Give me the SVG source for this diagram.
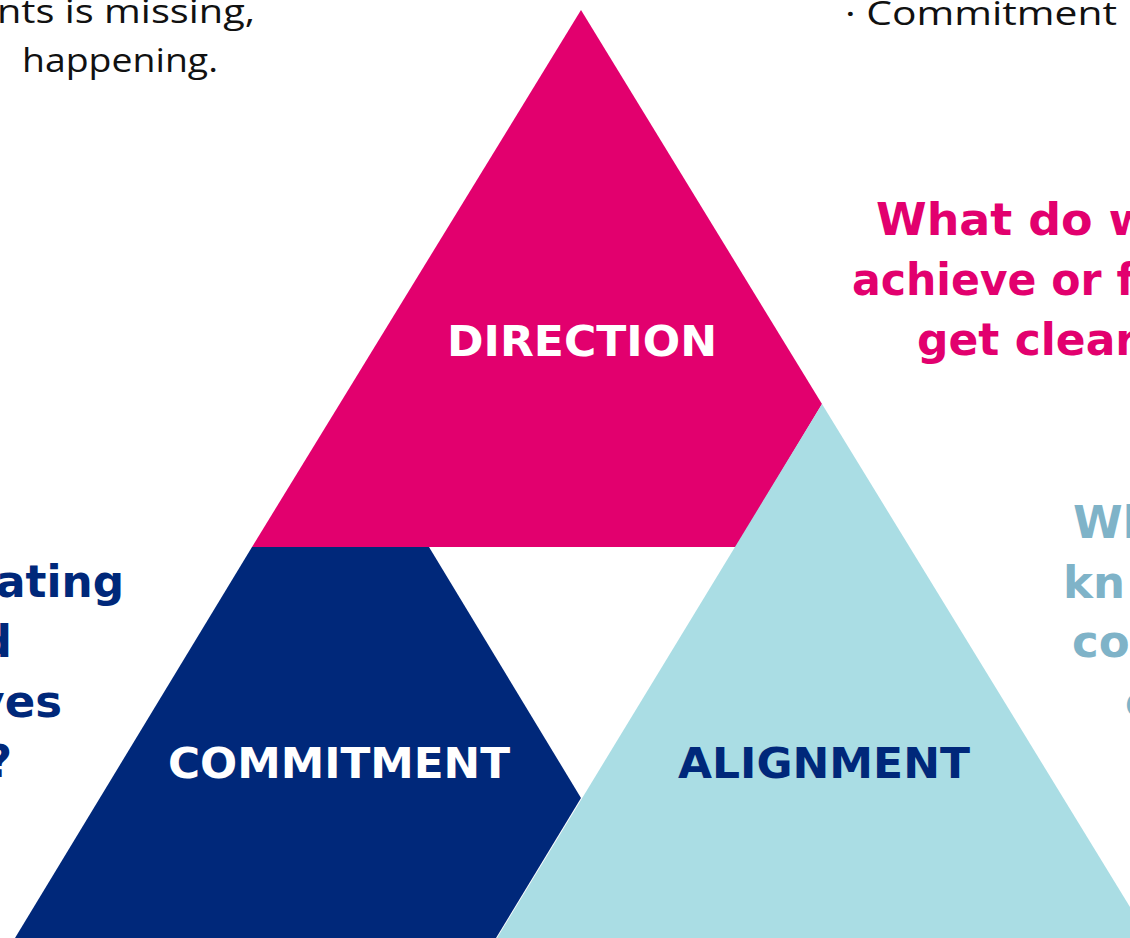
<svg xmlns="http://www.w3.org/2000/svg" width="1130" height="938" viewBox="0 0 1130 938">
<style>
.body{font-family:"Open Sans","DejaVu Sans",sans-serif;font-size:33px;fill:#111;}
.q{font-family:"DejaVu Sans","Noto Sans",sans-serif;font-weight:bold;font-size:45px;}
.lbl{font-family:"DejaVu Sans","Noto Sans",sans-serif;font-weight:bold;font-size:43px;text-anchor:middle;}
.pink{fill:#E2006E;}
.navy{fill:#00287A;}
.lb{fill:#AADDE4;}
.lbt{fill:#7FB3C8;}
</style>
<rect width="1130" height="938" fill="#ffffff"/>
<g id="text-top-left">
<text class="body" x="255" y="23" text-anchor="end" textLength="258" lengthAdjust="spacingAndGlyphs">nts is missing,</text>
<text class="body" x="218" y="72" text-anchor="end" textLength="196" lengthAdjust="spacingAndGlyphs">happening.</text>
</g>
<g id="text-top-right">
<text class="body" x="845" y="25" textLength="272" lengthAdjust="spacingAndGlyphs">· Commitment</text>
</g>
<g id="direction-question">
<text class="q pink" x="876" y="235" textLength="275" lengthAdjust="spacingAndGlyphs">What do w</text>
<text class="q pink" x="852" y="295" textLength="283" lengthAdjust="spacingAndGlyphs">achieve or f</text>
<text class="q pink" x="917" y="355" textLength="220" lengthAdjust="spacingAndGlyphs">get clear</text>
</g>
<g id="commitment-question">
<text class="q navy" x="124" y="597" text-anchor="end" textLength="128" lengthAdjust="spacingAndGlyphs">ating</text>
<text class="q navy" x="12" y="657" text-anchor="end">d</text>
<text class="q navy" x="62" y="717" text-anchor="end">ves</text>
<text class="q navy" x="12" y="777" text-anchor="end">?</text>
</g>
<g id="alignment-question">
<text class="q lbt" x="1073" y="538">Wh</text>
<text class="q lbt" x="1063" y="598">kn</text>
<text class="q lbt" x="1072" y="657">co</text>
<text class="q lbt" x="1125" y="717">c</text>
</g>
<g id="commitment">
<polygon class="navy" points="252,547 429,547 581,798 496,938 15,938"/>
<text class="lbl" x="339" y="778" fill="#ffffff" textLength="342" lengthAdjust="spacingAndGlyphs">COMMITMENT</text>
</g>
<g id="direction">
<polygon class="pink" points="581,10 822,404 736,547 252,547"/>
<text class="lbl" x="582" y="356" fill="#ffffff" textLength="270" lengthAdjust="spacingAndGlyphs">DIRECTION</text>
</g>
<g id="alignment">
<polygon class="lb" points="822,404 1130,907 1130,938 497,938"/>
<text class="lbl navy" x="824" y="778" textLength="292" lengthAdjust="spacingAndGlyphs">ALIGNMENT</text>
</g>
<g id="connectors"></g>
</svg>
